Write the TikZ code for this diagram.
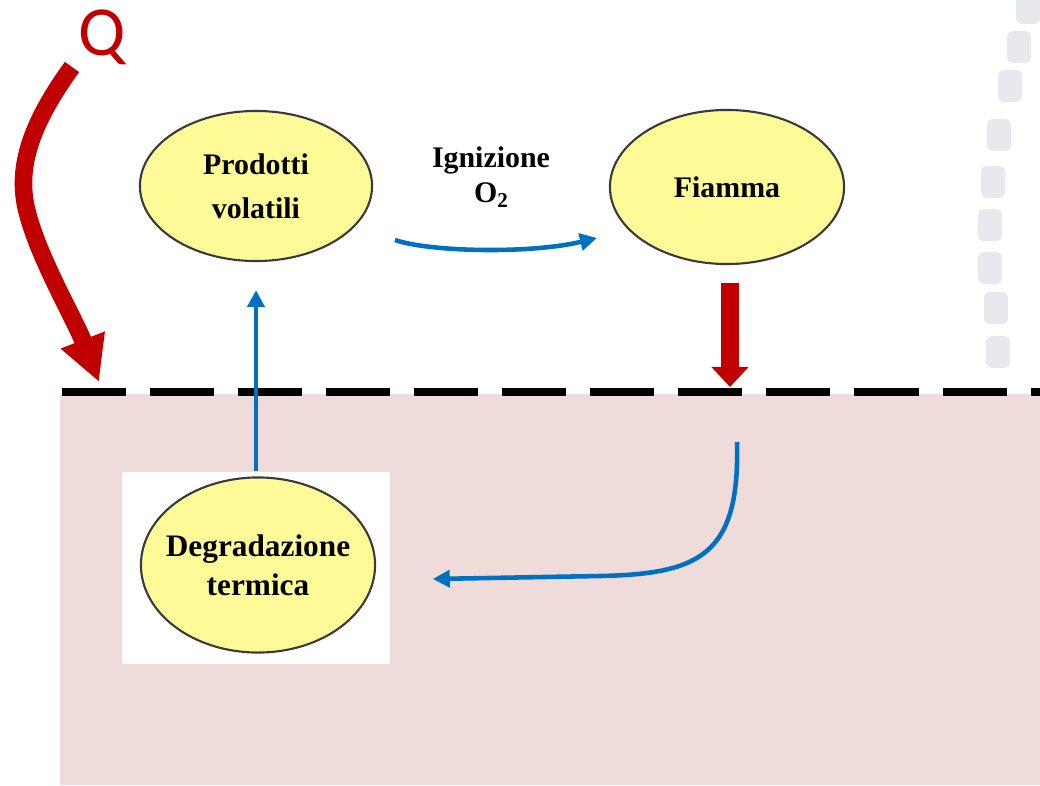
\documentclass[tikz,border=0pt]{standalone}
\usepackage{fontspec}
\setmainfont{Liberation Serif}
\newfontfamily\qfont{Carlito}
\usetikzlibrary{arrows.meta,positioning,calc,shapes.geometric}
\definecolor{heatred}{HTML}{C00000}
\definecolor{flowblue}{HTML}{0070C0}
\definecolor{bodypink}{HTML}{F0DBDB}
\definecolor{cellyellow}{HTML}{FFFA98}
\definecolor{rimgray}{HTML}{3A3A3A}
\definecolor{ghostgray}{HTML}{D7DBE4}
\tikzset{
  stagenode/.style={ellipse,draw=rimgray,line width=0.6pt,fill=cellyellow,
    minimum width=2.32cm,minimum height=1.5cm,inner sep=0pt,align=center,
    font=\bfseries\fontsize{8.5}{12.4}\selectfont},
  flowline/.style={-{Triangle[width=0.17cm,length=0.17cm]},draw=flowblue,line width=1.3pt},
  heatarrow/.style={draw=heatred,line width=5pt},
  surface/.style={draw=black,line width=2.2pt,dash pattern=on 0.64cm off 0.24cm}
}

\begin{document}
\begin{tikzpicture}[x=0.01cm,y=-0.01cm]
  \useasboundingbox (0,0) rectangle (1040,785);
  % polymer body below the surface
  \fill[bodypink] (60,394) rectangle (1040,785);
  % faded squares on the right margin
  \foreach \sx/\sy in {1028/8,1019/47,1010/86,999/135,993/182,990/225,990/268,996/308,998/352}
    \fill[ghostgray,rounded corners=1.5pt,opacity=0.6] (\sx-12,\sy-16) rectangle (\sx+12,\sy+16);
  \coordinate (surf-l) at (62,392);
  \coordinate (surf-r) at (1040,392);
  \draw[surface] (surf-l) -- (surf-r);

  \node[stagenode] (prod) at (256,186) {Prodotti\\volatili};
  \node[stagenode,minimum width=2.34cm,minimum height=1.54cm] (fiamma) at (727,187) {Fiamma};
  \node[fill=white,minimum width=2.68cm,minimum height=1.92cm,inner sep=0pt] (degbox) at (256,568) {};
  \node[stagenode,minimum width=2.34cm,minimum height=1.75cm,inner xsep=-0.1cm,
    font=\bfseries\fontsize{8.9}{11}\selectfont] (degr) at (258,565) {Degradazione\\termica};
  \node[font=\bfseries\fontsize{8.5}{10}\selectfont,align=center] (ign) at (491,177)
    {Ignizione\\O{\fontsize{6}{6}\selectfont\raisebox{-1.5pt}{2}}};
  \node[font=\qfont\fontsize{20}{20}\selectfont,text=heatred,inner sep=0pt] (q) at (102,37) {Q};

  % heat input and feedback from the flame
  \coordinate (q-start) at (72,67);
  \coordinate (q-end) at (99,382);
  \draw[heatarrow,-{Triangle[width=0.44cm,length=0.45cm]}] (q-start)
    .. controls (30,125) and (15,170) .. (28,215)
    .. controls (40,260) and (75,320) .. (q-end);
  \draw[heatarrow,line width=5.1pt,-{Triangle[width=0.36cm,length=0.2cm]}]
    ([shift={(3,18)}]fiamma.south) -- ([shift={(3,-5)}]fiamma.south |- surf-l);

  % cycle
  \draw[flowline] (degbox.north) -- (prod.south) [shorten >=0.28cm];
  \coordinate (ign-in) at (395,240);
  \coordinate (ign-out) at (597,238);
  \draw[flowline] (ign-in) .. controls (430,252) and (530,254) .. (ign-out);
  \coordinate (back-in) at (737,442);
  \draw[flowline] (back-in) .. controls (740,555) and (700,574) .. (600,576) -- ([shift={(42,11)}]degbox.east);
\end{tikzpicture}
\end{document}
